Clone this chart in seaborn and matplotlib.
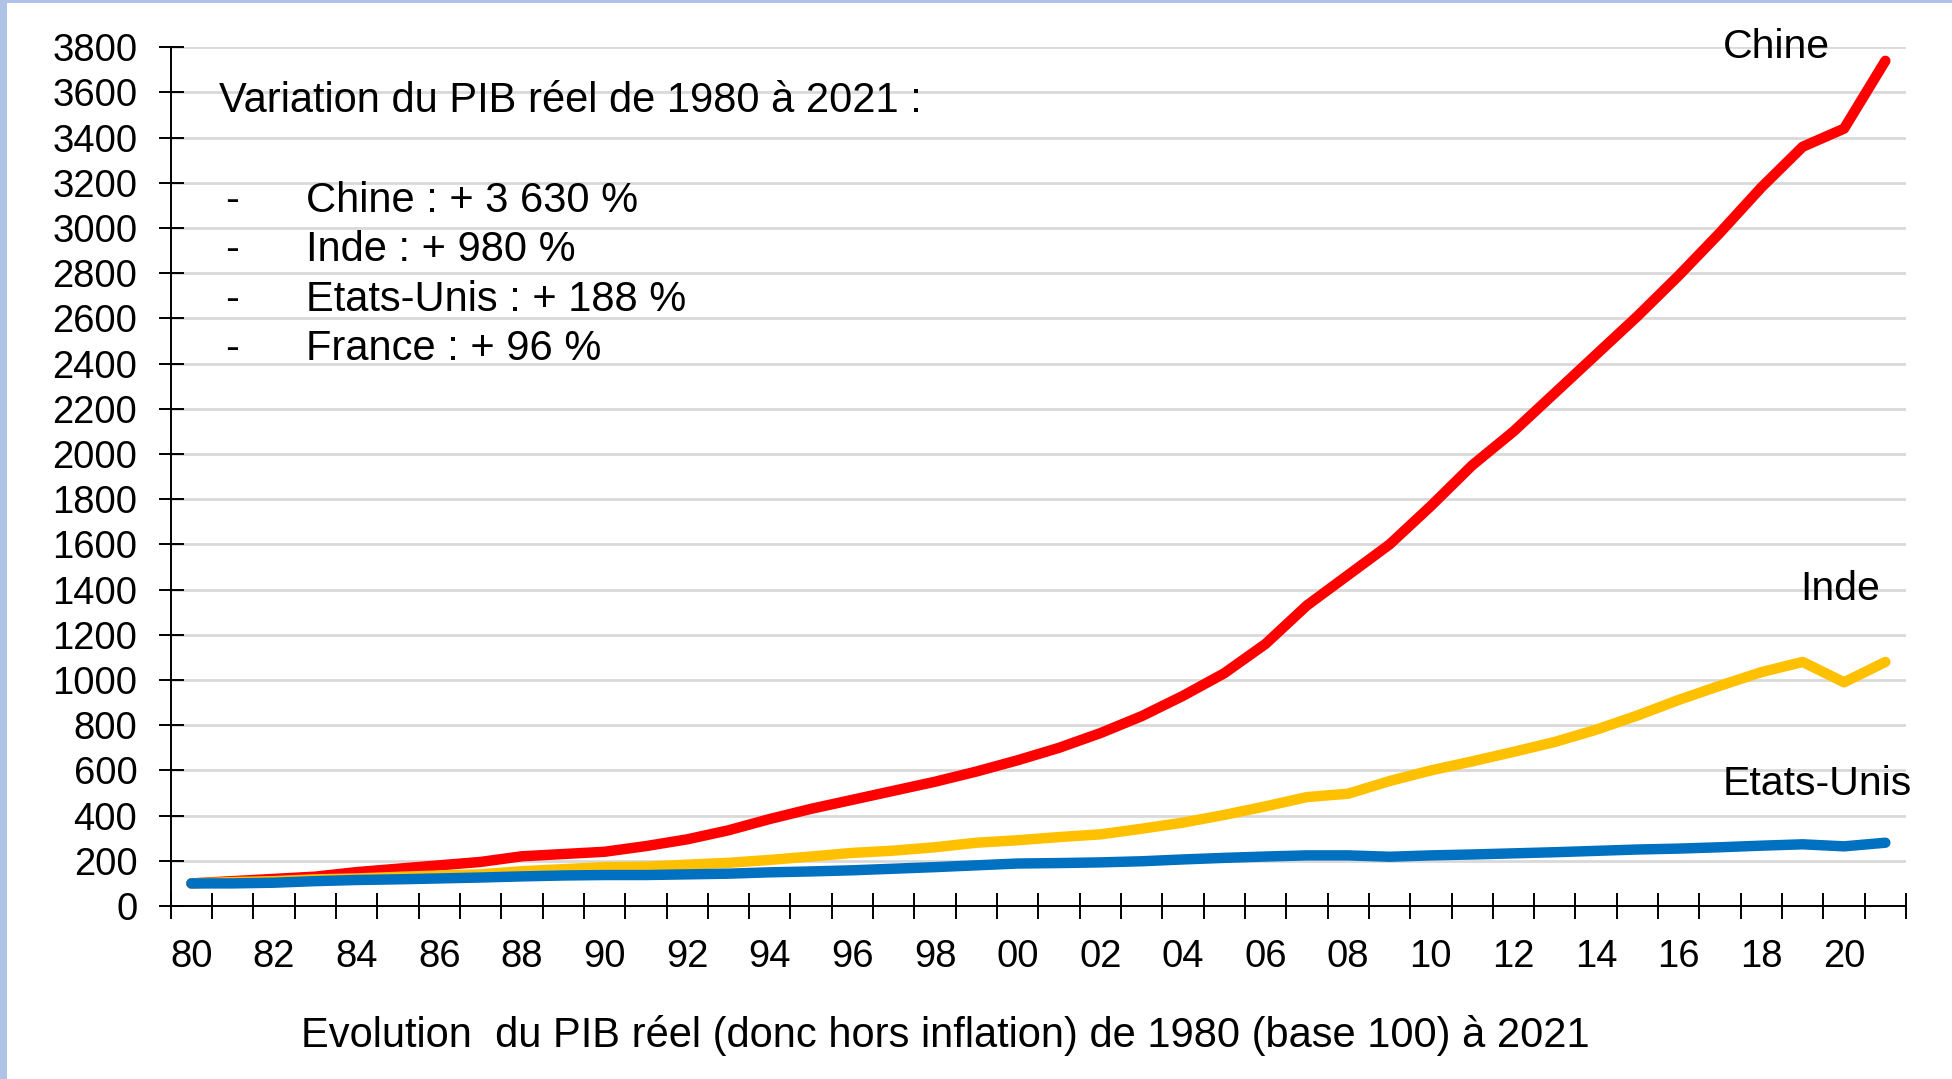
import numpy as np
import pandas as pd
import matplotlib
matplotlib.use("Agg")
import matplotlib.pyplot as plt
import seaborn as sns
from matplotlib.patches import Rectangle

# ---------------- data ----------------
years = list(range(1980, 2022))
chine = [100, 110, 120, 130, 150, 165, 180, 195, 220, 230,
         240, 265, 295, 335, 385, 430, 470, 510, 550, 595,
         645, 700, 765, 840, 930, 1030, 1160, 1330, 1465, 1600,
         1770, 1950, 2100, 2270, 2440, 2610, 2790, 2980, 3180, 3360,
         3440, 3740]
inde = [100, 106, 110, 118, 122, 129, 135, 140, 154, 163,
        172, 174, 183, 191, 204, 219, 235, 245, 260, 280,
        291, 305, 317, 342, 369, 403, 441, 482, 497, 553,
        600, 640, 682, 726, 780, 843, 912, 975, 1035, 1080,
        990, 1080]
etats_unis = [100, 100, 103, 110, 115, 118, 122, 126, 131, 135,
              137, 137, 140, 143, 149, 153, 158, 165, 172, 180,
              188, 190, 193, 198, 206, 213, 219, 224, 224, 218,
              224, 228, 233, 238, 244, 250, 254, 260, 267, 273,
              264, 280]
series_names = ["Chine", "Inde", "Etats-Unis"]
series_colors = ["#FF0000", "#FFC000", "#0070C0"]
yticks = list(range(0, 3801, 200))
xtick_labels = [f"{y % 100:02d}" for y in years[::2]]
annotation_title = "Variation du PIB réel de 1980 à 2021 :"
annotation_items = ["Chine : + 3 630 %", "Inde : + 980 %",
                    "Etats-Unis : + 188 %", "France : + 96 %"]
caption = "Evolution  du PIB réel (donc hors inflation) de 1980 (base 100) à 2021"

idx = np.arange(len(years))
df = pd.DataFrame({
    "idx": np.concatenate([idx, idx, idx]),
    "valeur": chine + inde + etats_unis,
    "pays": ["Chine"] * len(years) + ["Inde"] * len(years) + ["Etats-Unis"] * len(years),
})

# ---------------- style ----------------
sns.set_theme(style="white")
plt.rcParams['font.family'] = ['Liberation Sans', 'DejaVu Sans']

W, H = 1952, 1079
fig = plt.figure(figsize=(W / 100, H / 100), dpi=100)
fig.patch.set_facecolor("white")

def px(x, y):
    return x / W, 1 - y / H

ax = fig.add_axes([170.7 / W, 1 - 906 / H, (1906 - 170.7) / W, (906 - 47.3) / H])

sns.lineplot(data=df, x="idx", y="valeur", hue="pays", hue_order=series_names,
             palette=series_colors, linewidth=7.5, legend=False, ax=ax,
             sort=False, estimator=None)
for ln in ax.lines:
    ln.set_solid_capstyle("round")
    ln.set_solid_joinstyle("round")

ax.set_xlim(-0.5, len(years) - 0.5)
ax.set_ylim(0, 3800)
ax.set_xlabel("")
ax.set_ylabel("")

ax.set_yticks(yticks)
ax.yaxis.grid(True, color="#d9d9d9", linewidth=2.0)
ax.xaxis.grid(False)
ax.set_axisbelow(True)

for s in ["top", "right"]:
    ax.spines[s].set_visible(False)
for s in ["left", "bottom"]:
    ax.spines[s].set_color("black")
    ax.spines[s].set_linewidth(1.4)

ax.tick_params(axis="y", which="major", left=True, direction="inout", length=18,
               width=1.4, color="black", labelsize=27.5, labelcolor="black", pad=15)
ax.set_xticks(idx[::2])
ax.set_xticklabels(xtick_labels)
ax.set_xticks(np.arange(-0.5, len(years), 1), minor=True)
ax.tick_params(axis="x", which="major", bottom=True, length=0, labelsize=27.5,
               labelcolor="black", pad=24)
ax.tick_params(axis="x", which="minor", bottom=True, direction="inout", length=19,
               width=1.4, color="black")

# ---------------- texts ----------------
fs = 30
fig.text(*px(219, 101), annotation_title, fontsize=fs, ha="left", va="center", color="black")
for yy, item in zip([201, 250, 300, 349], annotation_items):
    fig.text(*px(225, yy), "-", fontsize=fs, ha="left", va="center", color="black")
    fig.text(*px(306, yy), item, fontsize=fs, ha="left", va="center", color="black")

fig.text(*px(1723, 47), "Chine", fontsize=29.5, ha="left", va="center", color="black")
fig.text(*px(1800, 589), "Inde", fontsize=29.5, ha="left", va="center", color="black")
fig.text(*px(1723, 784), "Etats-Unis", fontsize=29.5, ha="left", va="center", color="black")

fig.text(*px(945, 1036), caption, fontsize=fs, ha="center", va="center", color="black")

# light blue frame on left and top
fig.patches.append(Rectangle((0, 0), 7 / W, 1, transform=fig.transFigure,
                             facecolor="#AEC3E6", edgecolor="none", zorder=10))
fig.patches.append(Rectangle((0, 1 - 3 / H), 1, 3 / H, transform=fig.transFigure,
                             facecolor="#AEC3E6", edgecolor="none", zorder=10))

fig.savefig("out.png", dpi=100, facecolor="white")
